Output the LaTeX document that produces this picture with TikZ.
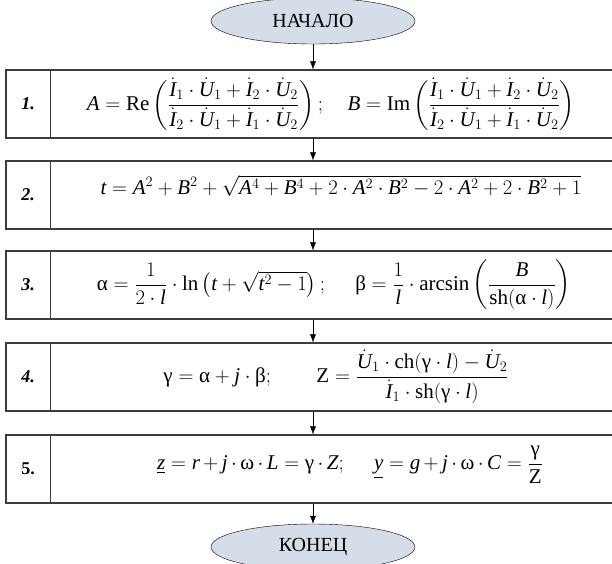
\documentclass[tikz,border=0pt]{standalone}
\usepackage{amsmath}
\usepackage{fontspec}
\setmainfont{Liberation Serif}
\DeclareSymbolFont{letters}{TU}{\rmdefault}{m}{it}
\usetikzlibrary{shapes.geometric, arrows.meta}

\definecolor{ovalfill}{RGB}{213,221,232}
\definecolor{boxline}{RGB}{60,60,60}
\newcommand{\alp}{\text{α}}
\newcommand{\bet}{\text{β}}
\newcommand{\gam}{\text{γ}}
\newcommand{\omg}{\text{ω}}

\begin{document}
\begin{tikzpicture}[x=1pt, y=-1pt, >={Latex[length=8pt,width=6pt]}, every node/.style={font=\fontsize{21}{25}\selectfont},
	oval/.style={ellipse, draw, thin, fill=ovalfill, minimum width=204pt, minimum height=46pt, inner sep=0pt, font=\fontsize{20}{24}\selectfont},
	stepcell/.style={rectangle, draw=boxline, line width=1.2pt, minimum width=614pt, minimum height=68pt},
	numtext/.style={font=\fontsize{18}{21}\selectfont\bfseries\itshape}]

						\path[use as bounding box, clip] (0,0) rectangle (612,563);

						\node[oval] (start) at (313,21) {НАЧАЛО};
						\node[stepcell] (s1) at (313,104) {};
						\node[stepcell] (s2) at (313,195) {};
						\node[stepcell] (s3) at (313,285) {};
						\node[stepcell] (s4) at (313,377) {};
						\node[stepcell] (s5) at (313,469) {};
						\node[oval] (stop) at (313,547) {КОНЕЦ};

						\foreach \s in {s1,s2,s3,s4,s5}
							\draw[boxline, line width=1.2pt] ([xshift=45pt]\s.north west) -- ([xshift=45pt]\s.south west);

						\node[numtext] (n1) at (28,104) {1.};
						\node[numtext] (n2) at (28,195) {2.};
						\node[numtext] (n3) at (28,285) {3.};
						\node[numtext] (n4) at (28,377) {4.};
						\node[numtext, font=\fontsize{18}{21}\selectfont\bfseries] (n5) at (28,469) {5.};

						\node (f1) at (331,104) {$A=\mathrm{Re}\left(\dfrac{\dot I_1\cdot\dot U_1+\dot I_2\cdot\dot U_2}{\dot I_2\cdot\dot U_1+\dot I_1\cdot\dot U_2}\right);\quad B=\mathrm{Im}\left(\dfrac{\dot I_1\cdot\dot U_1+\dot I_2\cdot\dot U_2}{\dot I_2\cdot\dot U_1+\dot I_1\cdot\dot U_2}\right)$};
						\node (f2) at (341,186) {$t=A^2+B^2+\sqrt{A^4+B^4+2\cdot A^2\cdot B^2-2\cdot A^2+2\cdot B^2+1}$};
						\node (f3) at (334,285) {$\alp=\dfrac{1}{2\cdot l}\cdot\ln\left(t+\sqrt{t^2-1}\right);\quad\; \bet=\dfrac{1}{l}\cdot\arcsin\left(\dfrac{B}{\mathrm{sh}(\alp\cdot l)}\right)$};
						\node (f4) at (336,377) {$\gam=\alp+j\cdot\bet;\qquad \mathrm{Z}=\dfrac{\dot U_1\cdot\mathrm{ch}(\gam\cdot l)-\dot U_2}{\dot I_1\cdot\mathrm{sh}(\gam\cdot l)}$};
						\node (f5) at (350,465) {$\medmuskip=3mu \underline{z}=r+j\cdot\omg\cdot L=\gam\cdot Z;\quad\; \underline{y}=g+j\cdot\omg\cdot C=\dfrac{\gam}{\mathrm{Z}}$};

						\draw[->] (start) -- (s1);
						\draw[->] (s1) -- (s2);
						\draw[->] (s2) -- (s3);
						\draw[->] (s3) -- (s4);
						\draw[->] (s4) -- (s5);
						\draw[->] (s5) -- (stop);
					\end{tikzpicture}
\end{document}
